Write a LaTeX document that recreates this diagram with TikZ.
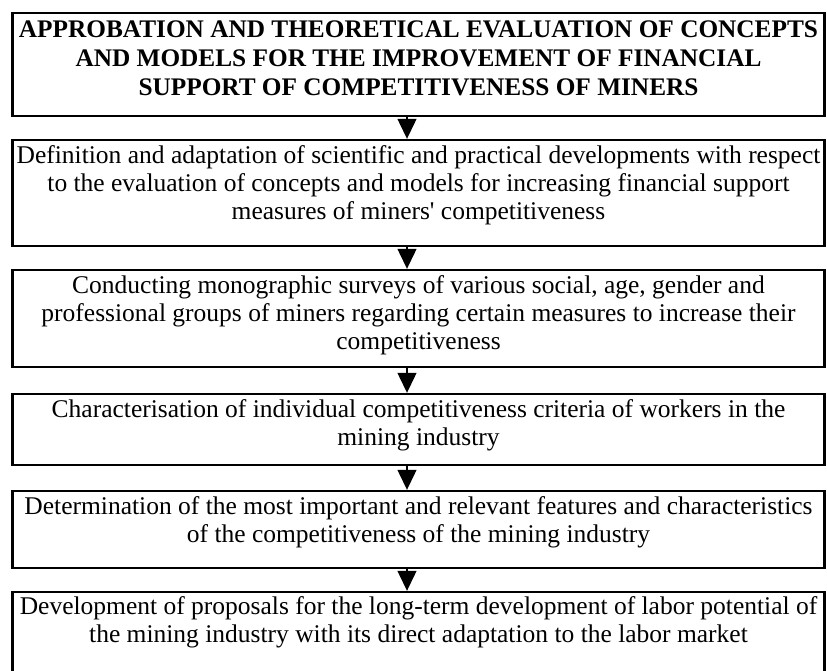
\documentclass[tikz,border=0pt]{standalone}
\usepackage{fontspec}
\setmainfont{Liberation Serif}
\usetikzlibrary{arrows.meta, positioning}

\begin{document}
\begin{tikzpicture}[x=1pt, y=-1pt,
    % --- Styles ---
    % Style for the frames of the stages
    stage-box/.style={
        draw,
        line width=2.4pt,
        minimum width=812pt,
        inner sep=0pt
    },
    % Style for the texts inside the frames
    stage-text/.style={
        anchor=north,
        align=center,
        inner sep=0pt,
        font=\fontsize{25.5}{28}\selectfont
    },
    % Style for the arrows between the frames
    flow-arrow/.style={
        -{Triangle[length=20pt, width=19pt]}, % Big black heads
        line width=1.2pt
    }
]
\useasboundingbox (0,0) rectangle (827,670);
\clip (0,0) rectangle (827,670);

% --- Title frame ---
\node[stage-box, minimum height=103pt] (title) at (418.5,64.5) {};
\node[stage-text, font=\fontsize{25.3}{29}\selectfont\bfseries] (title-text)
    at ([yshift=-9pt]title.north) {APPROBATION AND THEORETICAL EVALUATION OF CONCEPTS\\
    AND MODELS FOR THE IMPROVEMENT OF FINANCIAL\\
    SUPPORT OF COMPETITIVENESS OF MINERS};

% --- Stage 1 ---
\node[stage-box, minimum height=106pt] (define) at (418.5,193) {};
\node[stage-text] (define-text) at ([yshift=-7pt]define.north)
    {Definition and adaptation of scientific and practical developments with respect\\
    to the evaluation of concepts and models for increasing financial support\\
    measures of miners\textquotesingle{} competitiveness};

% --- Stage 2 ---
\node[stage-box, minimum height=97pt] (survey) at (418.5,318.5) {};
\node[stage-text] (survey-text) at ([yshift=-7pt]survey.north)
    {Conducting monographic surveys of various social, age, gender and\\
    professional groups of miners regarding certain measures to increase their\\
    competitiveness};

% --- Stage 3 ---
\node[stage-box, minimum height=71pt] (criteria) at (418.5,429.5) {};
\node[stage-text] (criteria-text) at ([yshift=-7pt]criteria.north)
    {Characterisation of individual competitiveness criteria of workers in the\\
    mining industry};

% --- Stage 4 ---
\node[stage-box, minimum height=77pt] (features) at (418.5,529.5) {};
\node[stage-text] (features-text) at ([yshift=-7pt]features.north)
    {Determination of the most important and relevant features and characteristics\\
    of the competitiveness of the mining industry};

% --- Stage 5 (runs off the bottom edge) ---
\node[stage-box, minimum height=108pt] (proposals) at (418.5,646) {};
\node[stage-text] (proposals-text) at ([yshift=-6pt]proposals.north)
    {Development of proposals for the long-term development of labor potential of\\
    the mining industry with its direct adaptation to the labor market};

% --- Arrows between the frames ---
\foreach \a/\b in {title/define, define/survey, survey/criteria,
                   criteria/features, features/proposals} {
    \draw[flow-arrow] ([xshift=-11.5pt]\a.south) -- ([xshift=-11.5pt]\b.north);
}

\end{tikzpicture}
\end{document}
